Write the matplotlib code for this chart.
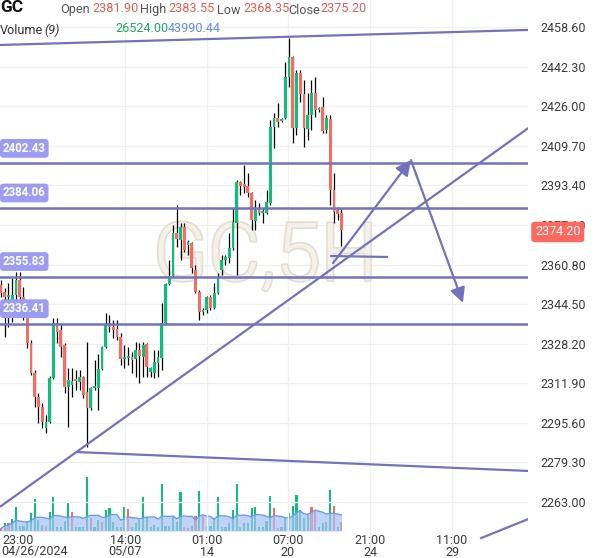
import matplotlib
matplotlib.use("Agg")
import matplotlib.pyplot as plt
import matplotlib.patheffects as pe
import numpy as np
import pandas as pd

plt.rcParams['font.family'] = ['Roboto', 'DejaVu Sans']

# ---------------- data ----------------
opens = [2352.4, 2349.5, 2347.4, 2345.0, 2348.3, 2354.4, 2347.4, 2339.2, 2328.5, 2316.1,
         2306.3, 2302.1, 2293.5, 2296.0, 2314.1, 2336.7, 2333.8, 2327.7, 2310.4, 2311.2,
         2313.7, 2312.4, 2314.5, 2308.3, 2301.7, 2310.0, 2310.0, 2317.8, 2326.8, 2336.7,
         2335.1, 2334.3, 2331.0, 2321.9, 2322.3, 2322.7, 2321.9, 2325.6, 2322.7, 2328.1,
         2316.5, 2316.1, 2320.3, 2322.3, 2336.7, 2352.8, 2356.1, 2373.8, 2370.9, 2376.3,
         2368.8, 2369.7, 2358.5, 2349.5, 2341.3, 2342.1, 2347.4, 2342.9, 2349.1, 2358.5,
         2362.7, 2363.5, 2367.6, 2377.9, 2394.8, 2394.0, 2393.1, 2390.3, 2378.7, 2383.3,
         2382.0, 2382.0, 2386.1, 2417.4, 2421.1, 2419.9, 2421.1, 2438.0, 2446.3, 2417.0,
         2439.7, 2431.0, 2416.6, 2422.4, 2431.4, 2424.4, 2425.7, 2416.2, 2420.7, 2391.5,
         2383.3, 2381.90]
highs = [2354.4, 2351.1, 2353.2, 2355.3, 2357.7, 2357.7, 2351.5, 2340.0, 2329.7, 2317.4,
         2307.9, 2303.8, 2298.8, 2314.9, 2338.8, 2338.8, 2336.7, 2328.5, 2318.2, 2318.2,
         2317.4, 2317.4, 2314.9, 2328.9, 2310.4, 2321.5, 2324.0, 2327.3, 2340.8, 2340.0,
         2338.0, 2338.0, 2332.6, 2327.7, 2326.8, 2324.8, 2328.9, 2328.5, 2328.9, 2328.5,
         2318.6, 2325.6, 2325.6, 2345.0, 2353.2, 2362.7, 2377.1, 2385.3, 2377.9, 2377.9,
         2370.9, 2370.1, 2360.6, 2350.3, 2342.9, 2348.0, 2348.3, 2353.2, 2357.3, 2364.7,
         2364.7, 2373.8, 2384.1, 2395.6, 2395.2, 2401.8, 2398.5, 2390.7, 2387.4, 2386.1,
         2384.1, 2391.5, 2420.3, 2423.2, 2427.3, 2421.1, 2444.2, 2454.1, 2446.7, 2440.9,
         2440.9, 2436.8, 2431.4, 2436.8, 2438.0, 2425.7, 2429.8, 2422.4, 2422.4, 2398.5,
         2384.5, 2383.55]
lows = [2347.4, 2331.0, 2335.1, 2337.1, 2340.8, 2339.2, 2338.0, 2326.4, 2315.3, 2302.1,
        2295.5, 2293.5, 2291.4, 2295.5, 2313.5, 2328.5, 2322.7, 2307.9, 2293.9, 2306.3,
        2309.1, 2309.1, 2305.8, 2285.7, 2300.9, 2309.1, 2300.9, 2317.4, 2326.4, 2333.0,
        2330.5, 2329.7, 2319.4, 2318.2, 2319.4, 2316.1, 2314.5, 2312.0, 2314.5, 2314.5,
        2314.5, 2314.1, 2314.5, 2317.4, 2336.3, 2352.4, 2355.7, 2368.0, 2362.7, 2366.0,
        2364.7, 2357.3, 2349.1, 2338.0, 2340.0, 2340.8, 2342.1, 2342.5, 2348.7, 2356.5,
        2360.6, 2361.4, 2366.8, 2356.5, 2389.4, 2390.3, 2388.6, 2375.0, 2375.0, 2381.2,
        2377.9, 2381.6, 2385.3, 2408.8, 2417.4, 2419.5, 2420.7, 2433.9, 2410.8, 2414.1,
        2427.7, 2409.2, 2412.1, 2416.2, 2421.5, 2423.6, 2415.0, 2415.0, 2385.3, 2377.9,
        2379.1, 2368.35]
closes = [2349.1, 2347.4, 2348.3, 2348.3, 2354.4, 2347.4, 2339.2, 2328.5, 2316.1, 2306.3,
          2302.1, 2296.0, 2296.0, 2314.1, 2336.7, 2333.0, 2326.8, 2310.4, 2313.3, 2312.8,
          2312.8, 2314.5, 2307.1, 2301.7, 2310.0, 2310.8, 2317.8, 2326.8, 2336.3, 2335.1,
          2333.8, 2331.0, 2321.9, 2322.7, 2322.7, 2321.5, 2325.6, 2323.1, 2327.7, 2318.6,
          2318.2, 2320.7, 2322.7, 2336.7, 2352.8, 2356.1, 2373.8, 2371.3, 2376.3, 2366.8,
          2370.1, 2359.4, 2349.5, 2341.3, 2342.1, 2347.4, 2342.9, 2349.1, 2355.7, 2362.7,
          2363.9, 2367.6, 2378.3, 2394.8, 2393.1, 2392.7, 2390.3, 2379.1, 2383.3, 2382.0,
          2382.4, 2386.5, 2417.4, 2421.1, 2419.5, 2420.3, 2438.0, 2446.3, 2417.0, 2439.7,
          2431.0, 2417.0, 2422.4, 2431.4, 2424.4, 2425.3, 2415.8, 2421.1, 2391.5, 2382.4,
          2381.6, 2375.20]
volumes = [8, 23, 23, 35, 70, 15, 15, 26, 53, 94,
           32, 18, 15, 56, 100, 12, 12, 29, 82, 56,
           12, 12, 12, 158, 38, 12, 32, 26, 62, 67,
           26, 12, 12, 70, 64, 12, 23, 32, 100, 41,
           12, 18, 12, 138, 15, 15, 44, 26, 114, 12,
           9, 15, 44, 117, 44, 15, 15, 38, 100, 12,
           12, 23, 62, 138, 12, 23, 23, 67, 70, 12,
           12, 29, 103, 67, 9, 12, 38, 53, 73, 106,
           62, 38, 47, 70, 62, 12, 23, 26, 120, 73,
           12, 26.524]  # thousands
vol_up = [0, 1, 0, 1, 1, 1, 1, 1, 1, 1,
          1, 1, 0, 1, 1, 1, 1, 1, 1, 0,
          1, 1, 1, 1, 0, 1, 1, 0, 1, 1,
          1, 1, 1, 1, 0, 1, 1, 1, 1, 1,
          1, 1, 1, 1, 1, 1, 1, 1, 1, 0,
          0, 1, 0, 1, 0, 1, 1, 1, 1, 1,
          1, 1, 1, 1, 1, 1, 1, 1, 1, 1,
          1, 1, 1, 0, 0, 1, 1, 1, 1, 1,
          1, 1, 1, 0, 0, 1, 1, 1, 1, 0,
          1, 0]

price_ticks = [2458.60, 2442.30, 2426.00, 2409.70, 2393.40, 2377.10, 2360.80,
               2344.50, 2328.20, 2311.90, 2295.60, 2279.30, 2263.00]
time_ticks = [33.2, 55.1, 76.7, 98.7, 120.6]
time_top = ["14:00", "01:00", "07:00", "21:00", "11:00"]
time_bottom = ["05/07", "14", "20", "24", "29"]
first_time = ("23:00", "04/26/2024")

level_prices = [2402.43, 2384.06, 2355.83, 2336.41]
last_price_label = "2374.20"

# drawings (bar index, price)
channel_top = [(-0.3, 2451.2), (141.0, 2457.4)]
trend_up = [(-0.3, 2261.0), (141.0, 2417.0)]
channel_bottom = [(20.0, 2283.6), (141.0, 2275.8)]
short_seg = [(88.0, 2364.3), (103.5, 2363.9)]
bottom_right = [(128.1, 2248.0), (141.0, 2256.0)]
arrow1 = [(88.8, 2361.4), (109.6, 2403.8)]
arrow2 = [(109.6, 2403.8), (123.5, 2345.0)]

# ---------------- styles ----------------
GREEN = '#0bbf7c'
RED = '#f96a5f'
DRAW = '#7272bd'
LABEL_BG = '#9c9cf2'
TXT = '#3a3a3a'

W, H = 600, 558
fig = plt.figure(figsize=(W / 100, H / 100), dpi=100)
fig.patch.set_facecolor('white')
rect = [0, 0, 528 / W, 1]

axv = fig.add_axes(rect)
axv.set_facecolor('white')
ax = fig.add_axes(rect, sharex=axv)
ax.patch.set_alpha(0)

idx = np.arange(len(opens))
o = np.array(opens); c = np.array(closes); hi = np.array(highs); lo = np.array(lows)
up = c >= o

ax.set_xlim(-0.27, 140.9)
ax.set_ylim(2239.95, 2469.72)

for p in price_ticks:
    ax.axhline(p, color='#f0f0f0', lw=1, zorder=0)
for t in time_ticks:
    ax.axvline(t, color='#f0f0f0', lw=1, zorder=0)

# watermark
ax.text(70.6, 2363.5, "GC,5H", fontsize=58, fontweight=300, color='#f4f1ea',
        ha='center', va='center', zorder=0.5,
        path_effects=[pe.Stroke(linewidth=2.5, foreground='#e5dfd0'), pe.Normal()])

# candles
ax.vlines(idx, lo, hi, color='black', lw=0.9, zorder=2)
body = np.where(np.abs(c - o) < 0.7, 0.7 * np.sign(c - o + 1e-9), c - o)
ax.bar(idx, body, bottom=o, width=0.74, color=np.where(up, GREEN, RED),
       edgecolor='none', zorder=3)

# volume
vol = np.array(volumes) * 1000
axv.set_ylim(-27 * 2930, 531 * 2930)
axv.bar(idx, vol, width=0.58, color=[GREEN if u else RED for u in vol_up], zorder=2)
ma = pd.Series(vol).rolling(9, min_periods=1).mean().values
axv.fill_between(idx, ma, 0, color='#a7c2f4', alpha=0.72, lw=0, zorder=3)
axv.plot(idx, ma, color='#6c9bea', lw=1.0, zorder=4)
axv.axis('off')

# horizontal levels with labels
for p in level_prices:
    ax.axhline(p, color=DRAW, lw=1.8, zorder=5)
    ax.text(0.5, p + 6.2, f"{p:.2f}", fontsize=8.3, fontweight='bold', color='white',
            ha='left', va='center', zorder=6,
            bbox=dict(boxstyle='round,pad=0.25,rounding_size=0.3', fc=LABEL_BG, ec='none'))

for seg in (channel_top, trend_up, channel_bottom, short_seg, bottom_right):
    (x0, y0), (x1, y1) = seg
    ax.plot([x0, x1], [y0, y1], color=DRAW, lw=1.6, zorder=5, solid_capstyle='butt')
for seg in (arrow1, arrow2):
    (x0, y0), (x1, y1) = seg
    ax.annotate('', xy=(x1, y1), xytext=(x0, y0),
                arrowprops=dict(arrowstyle='-|>,head_length=0.9,head_width=0.45',
                                color=DRAW, lw=1.6, shrinkA=0, shrinkB=0), zorder=5)

for s in ax.spines.values():
    s.set_visible(False)
ax.yaxis.tick_right()
ax.set_yticks(price_ticks)
ax.set_yticklabels([f"{p:.2f}" for p in price_ticks])
ax.tick_params(axis='y', length=0, pad=9, labelsize=9, labelcolor=TXT)
ax.set_xticks([])

# time labels
xt = ax.get_xaxis_transform()
for t, a, b in zip(time_ticks, time_top, time_bottom):
    ax.text(t, 1 - 540 / H, a, transform=xt, ha='center', va='center', fontsize=9, color=TXT)
    ax.text(t, 1 - 552 / H, b, transform=xt, ha='center', va='center', fontsize=9, color=TXT)
fig.text(2 / W, 1 - 540 / H, first_time[0], ha='left', va='center', fontsize=9, color=TXT)
fig.text(1 / W, 1 - 552 / H, first_time[1], ha='left', va='center', fontsize=9, color=TXT)

# current price label
ax.text(1.0 + 7 / 528, 2374.20, last_price_label, transform=ax.get_yaxis_transform(),
        ha='left', va='center', fontsize=9, color='white', zorder=10, clip_on=False,
        bbox=dict(boxstyle='round,pad=0.3,rounding_size=0.25', fc='#fc6a5f', ec='none'))

# header
def ft(x, y, s, **kw):
    fig.text(x / W, 1 - y / H, s, va='center', ha='left', **kw)

HS = 9.1
ft(0, 8, "GC", fontsize=12.5, fontweight='bold', color='#111111')
ft(60, 10, "Open", fontsize=HS, color='#555555')
ft(92, 9, "2381.90", fontsize=HS, color='#e35d55')
ft(140, 10, "High", fontsize=HS, color='#555555')
ft(168, 9, "2383.55", fontsize=HS, color='#e35d55')
ft(217, 10, "Low", fontsize=HS, color='#555555')
ft(243, 9, "2368.35", fontsize=HS, color='#e35d55')
ft(288, 10, "Close", fontsize=HS, color='#555555')
ft(320, 9, "2375.20", fontsize=HS, color='#e35d55')
ft(0, 30, "Volume", fontsize=HS, color='#333333')
ft(44, 30, "(9)", fontsize=HS, color='#333333', style='italic')
ft(115, 29, "26524.00", fontsize=HS, color='#22a866')
ft(168, 29, "43990.44", fontsize=HS, color='#5b8ce8')

fig.savefig("out.png", dpi=100)
